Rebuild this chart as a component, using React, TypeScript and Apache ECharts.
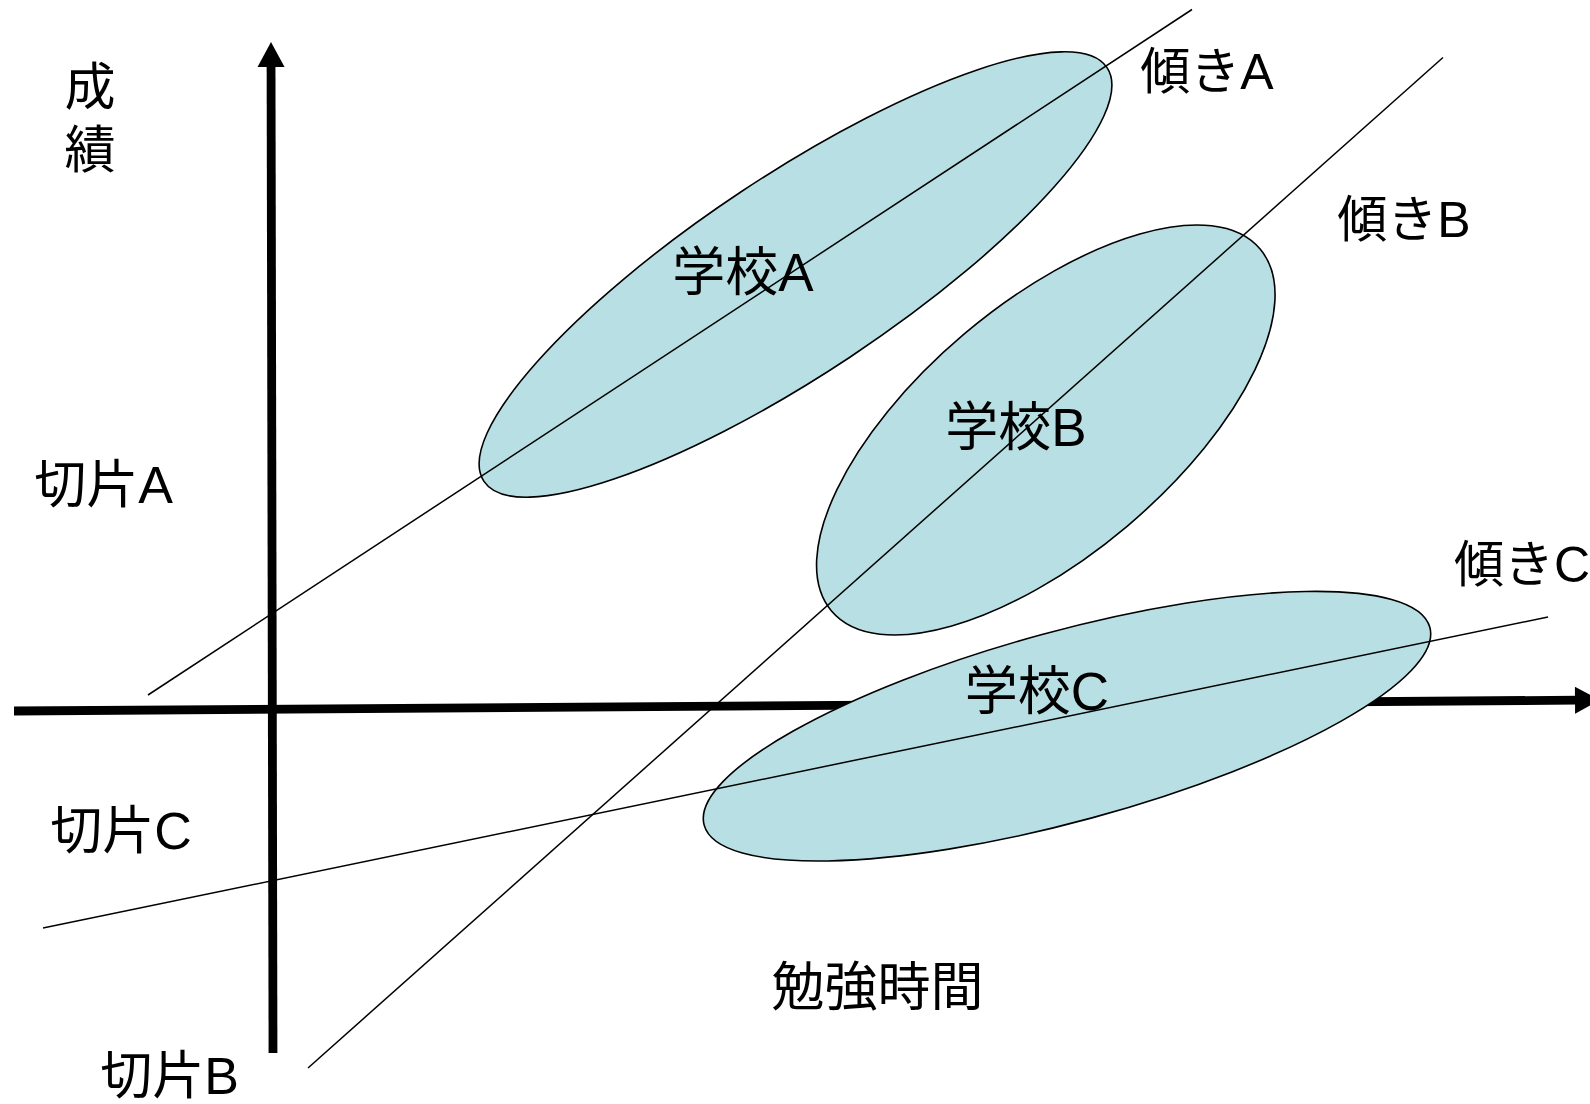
import { useEffect, useRef } from "react";
import * as echarts from "echarts";

const FONT = "'Liberation Sans', 'Noto Sans CJK JP', sans-serif";

// Data space: x = study time, y = score (origin at the axes' crossing)
const X_MIN = -273;
const X_MAX = 1317;
const Y_MIN = -394;
const Y_MAX = 710;

// Axis arrows [x, y]
const axisFrom = [
  [-259, -1],
  [0, -343],
];
const axisTo = [
  [1327, 10],
  [-2, 668],
];

// Regression lines per school
const lineNames = ["学校A", "学校B", "学校C"];
const lineFrom = [
  [-125, 15],
  [35, -358],
  [-230, -218],
];
const lineTo = [
  [919, 700.5],
  [1170, 652.5],
  [1275, 93],
];

// School scatter clouds (ellipses)
const schoolNames = ["学校A", "学校B", "学校C"];
const schoolCenterX = [522.5, 772.8, 794];
const schoolCenterY = [435.5, 280, -16.2];
const schoolSemiMajor = [374, 280.5, 376];
const schoolSemiMinor = [99, 126, 95];
const schoolAngle = [33.6, 40.2, 15.25];

// Text labels
const labelTexts = [
  "成\n績",
  "傾きA",
  "傾きB",
  "傾きC",
  "学校A",
  "学校B",
  "学校C",
  "切片A",
  "切片C",
  "切片B",
  "勉強時間",
];
const labelX = [-183, 934, 1131, 1249, 470, 743, 764, -169.5, -152, -103.5, 604.5];
const labelY = [591.5, 638, 490, 145, 438, 283, 19, 225.5, -120.5, -366, -277.5];
const labelSizes = [51, 50, 50, 50, 53, 53, 53, 52, 52, 52, 53];
const labelLineHeights = [63, 50, 50, 50, 53, 53, 53, 52, 52, 50, 53];

export default function App() {
  const ref = useRef<HTMLDivElement>(null);

  useEffect(() => {
    if (!ref.current) return;
    const chart = echarts.init(ref.current, null, { renderer: "svg" });

    const axisData = axisFrom.map((f, i) => [f[0], f[1], axisTo[i][0], axisTo[i][1]]);
    const ellipseData = schoolNames.map((n, i) => ({
      name: n,
      value: [schoolCenterX[i], schoolCenterY[i], schoolSemiMajor[i], schoolSemiMinor[i], schoolAngle[i]],
    }));
    const labelData = labelTexts.map((t, i) => ({ name: t, value: [labelX[i], labelY[i]] }));

    const lineSeries = lineNames.map((n, i) => ({
      type: "line",
      name: n,
      z: 3,
      data: [lineFrom[i], lineTo[i]],
      symbol: "none",
      silent: true,
      lineStyle: { color: "#000", width: 1.5 },
    }));

    chart.setOption({
      animation: false,
      backgroundColor: "#ffffff",
      grid: { left: 0, right: 0, top: 0, bottom: 0, containLabel: false },
      xAxis: { type: "value", min: X_MIN, max: X_MAX, show: false },
      yAxis: { type: "value", min: Y_MIN, max: Y_MAX, show: false },
      series: [
        {
          type: "custom",
          name: "axes",
          z: 1,
          silent: true,
          clip: false,
          encode: { x: [0, 2], y: [1, 3] },
          data: axisData,
          renderItem: (params: any, api: any) => {
            const p1 = api.coord([api.value(0), api.value(1)]);
            const p2 = api.coord([api.value(2), api.value(3)]);
            const dx = p2[0] - p1[0];
            const dy = p2[1] - p1[1];
            const len = Math.hypot(dx, dy);
            const ux = dx / len;
            const uy = dy / len;
            const nx = -uy;
            const ny = ux;
            const L = 25;
            const W = 27;
            const bx = p2[0] - ux * L;
            const by = p2[1] - uy * L;
            return {
              type: "group",
              children: [
                {
                  type: "line",
                  shape: { x1: p1[0], y1: p1[1], x2: bx + ux * 3, y2: by + uy * 3 },
                  style: { stroke: "#000", lineWidth: 8.8 },
                },
                {
                  type: "polygon",
                  shape: {
                    points: [
                      [p2[0], p2[1]],
                      [bx + (nx * W) / 2, by + (ny * W) / 2],
                      [bx - (nx * W) / 2, by - (ny * W) / 2],
                    ],
                  },
                  style: { fill: "#000" },
                },
              ],
            };
          },
        },
        {
          type: "custom",
          name: "schools",
          z: 2,
          silent: true,
          clip: false,
          encode: { x: 0, y: 1 },
          data: ellipseData,
          renderItem: (params: any, api: any) => {
            const c = api.coord([api.value(0), api.value(1)]);
            const s = api.size([api.value(2), api.value(3)]);
            return {
              type: "ellipse",
              x: c[0],
              y: c[1],
              rotation: (api.value(4) * Math.PI) / 180,
              shape: { cx: 0, cy: 0, rx: s[0], ry: s[1] },
              style: { fill: "#B8DFE3", stroke: "#000", lineWidth: 1.6 },
            };
          },
        },
        ...lineSeries,
        {
          type: "custom",
          name: "labels",
          z: 4,
          silent: true,
          clip: false,
          encode: { x: 0, y: 1 },
          data: labelData,
          renderItem: (params: any, api: any) => {
            const c = api.coord([api.value(0), api.value(1)]);
            return {
              type: "text",
              x: c[0],
              y: c[1],
              style: {
                text: labelTexts[params.dataIndex],
                fill: "#000",
                fontSize: labelSizes[params.dataIndex],
                fontFamily: FONT,
                lineHeight: labelLineHeights[params.dataIndex],
                align: "center",
                verticalAlign: "middle",
              },
            };
          },
        },
      ],
    });

    return () => chart.dispose();
  }, []);

  return (
    <div
      ref={ref}
      style={{ position: "absolute", left: 0, top: 0, width: 1590, height: 1104 }}
    />
  );
}
